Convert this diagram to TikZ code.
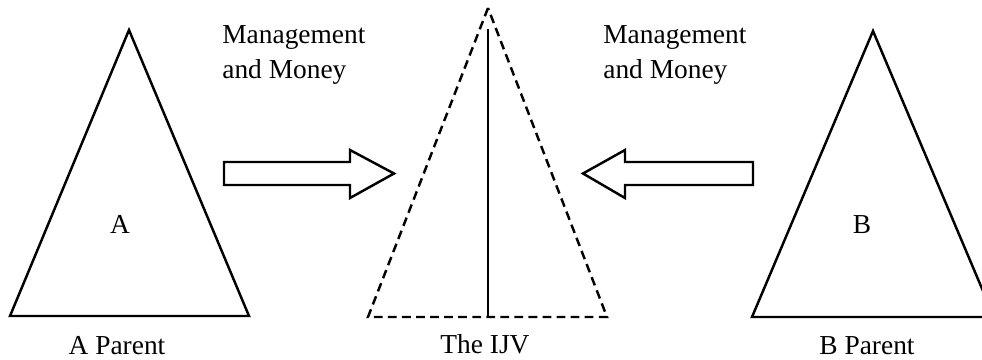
\documentclass[tikz,border=0pt]{standalone}
\usepackage{fontspec}
\setmainfont{Liberation Serif}
\usetikzlibrary{positioning}

\begin{document}
\begin{tikzpicture}[
    x=0.02cm, y=-0.02cm,
    parent/.style={draw, line width=1.4pt, line join=miter},
    venture/.style={draw, line width=1.4pt, dash pattern=on 5pt off 3pt},
    flow/.style={draw, line width=1.4pt, line join=miter},
    txt/.style={font=\fontsize{15.6}{19.9}\selectfont, inner sep=0pt, align=left}
]
\useasboundingbox (0,0) rectangle (982,359);

% parent A
\coordinate (a1) at (129,30);
\coordinate (a2) at (10,316);
\coordinate (a3) at (249,316);
\draw [parent] (a1) -- (a2) -- (a3) -- cycle;
\node (nA) [txt, anchor=base] at (120,233) {A};
\node (pA) [txt, anchor=base] at (117,354) {A Parent};

% the joint venture
\coordinate (j1) at (488,8);
\coordinate (j2) at (368,317);
\coordinate (j3) at (607,317);
\coordinate (jt) at (488,29);
\coordinate (jb) at (488,317);
\draw [venture] (j1) -- (j2) -- (j3) -- cycle;
\draw [parent] (jt) -- (jb);
\node (pJ) [txt, anchor=base] at (485,353) {The IJV};

% parent B
\coordinate (b1) at (873,31);
\coordinate (b2) at (752,317);
\coordinate (b3) at (994,317);
\draw [parent] (b1) -- (b2) -- (b3) -- cycle;
\node (nB) [txt, anchor=base] at (862,233) {B};
\node (pB) [txt, anchor=base] at (867,354) {B Parent};

% contributions
\node (mA) [txt, anchor=north west] at (222,25) {Management\\and Money};
\node (mB) [txt, anchor=north west] at (603,25) {Management\\and Money};
\draw [flow] (224,162) -- (350,162) -- (350,150) -- (394,173.5) -- (350,198) -- (350,185) -- (224,185) -- cycle;
\draw [flow] (753,162) -- (625,162) -- (625,150) -- (583,173.5) -- (625,198) -- (625,185) -- (753,185) -- cycle;

\end{tikzpicture}
\end{document}
